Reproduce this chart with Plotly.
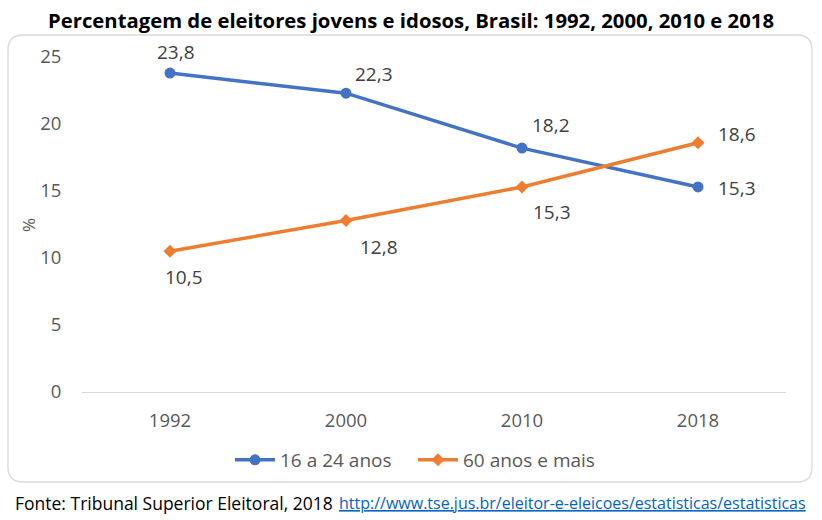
import plotly.graph_objects as go

anos = ["1992", "2000", "2010", "2018"]
jovens = [23.8, 22.3, 18.2, 15.3]
idosos = [10.5, 12.8, 15.3, 18.6]
nome_jovens = "16 a 24 anos"
nome_idosos = "60 anos e mais"
titulo = "Percentagem de eleitores jovens e idosos, Brasil: 1992, 2000, 2010 e 2018"
fonte = "Fonte: Tribunal Superior Eleitoral, 2018"
link = "http://www.tse.jus.br/eleitor-e-eleicoes/estatisticas/estatisticas"

W, H = 822, 520
L, R, T, B = 82, 36, 57, 128
pw, ph = W - L - R, H - T - B

def px(x):
    return (x - L) / pw

def py(y):
    return (H - B - y) / ph

BLUE = "#4472C4"
ORANGE = "#ED7D31"
FONT = "Open Sans"

fig = go.Figure()
fig.add_trace(go.Scatter(x=anos, y=jovens, name=nome_jovens, mode="lines+markers",
                         line=dict(color=BLUE, width=3.5),
                         marker=dict(symbol="circle", size=11, color=BLUE)))
fig.add_trace(go.Scatter(x=anos, y=idosos, name=nome_idosos, mode="lines+markers",
                         line=dict(color=ORANGE, width=3.5),
                         marker=dict(symbol="diamond", size=10, color=ORANGE)))

off_j = [(6, 21), (28, 19), (29, 23), (39, -1)]
off_i = [(14, -26), (33, -27), (30, -25), (39, 9)]
for serie, offs in ((jovens, off_j), (idosos, off_i)):
    for i, (v, (dx, dy)) in enumerate(zip(serie, offs)):
        fig.add_annotation(x=i, y=v, xref="x", yref="y",
                           text=f"{v:.1f}".replace(".", ","), showarrow=False,
                           xshift=dx, yshift=dy, font=dict(family=FONT, size=19, color="#404040"))

# rounded border
x0, x1, y0, y1, r = px(8), px(812), py(482), py(35), 15
rx, ry = r / pw, r / ph
path = (f"M {x0+rx},{y1} L {x1-rx},{y1} Q {x1},{y1} {x1},{y1-ry} "
        f"L {x1},{y0+ry} Q {x1},{y0} {x1-rx},{y0} L {x0+rx},{y0} "
        f"Q {x0},{y0} {x0},{y0+ry} L {x0},{y1-ry} Q {x0},{y1} {x0+rx},{y1} Z")
fig.add_shape(type="path", path=path, xref="paper", yref="paper",
              line=dict(color="#D9D9D9", width=1.3), layer="below")

fig.add_annotation(x=px(411), xref="paper", y=py(20), yref="paper", text=f"<b>{titulo}</b>",
                   showarrow=False, xanchor="center", yanchor="middle",
                   font=dict(family=FONT, size=20.3, color="#000000"))
fig.add_annotation(x=px(28), xref="paper", y=py(225), yref="paper", text="%",
                   showarrow=False, xanchor="center", yanchor="middle", textangle=-90,
                   font=dict(family=FONT, size=17, color="#595959"))
fig.add_annotation(x=px(13), xref="paper", y=py(503), yref="paper", text=fonte,
                   showarrow=False, xanchor="left", yanchor="middle",
                   font=dict(family=FONT, size=17.5, color="#000000"))
fig.add_annotation(x=px(808), xref="paper", y=py(503), yref="paper", text=link,
                   showarrow=False, xanchor="right", yanchor="middle",
                   font=dict(family=FONT, size=16, color="#0563C1", lineposition="under"))

fig.update_layout(
    width=W, height=H, margin=dict(l=L, r=R, t=T, b=B),
    paper_bgcolor="white", plot_bgcolor="white",
    showlegend=True,
    legend=dict(orientation="h", x=px(230), xanchor="left", y=py(460), yanchor="middle",
                font=dict(family=FONT, size=19, color="#595959"), itemwidth=40,
                entrywidth=128, entrywidthmode="pixels", traceorder="normal"),
    xaxis=dict(type="category", range=[-0.5, 3.5], showgrid=False, showline=True,
               linecolor="#D9D9D9", linewidth=1.3, ticks="outside", ticklen=12,
               tickcolor="rgba(0,0,0,0)",
               tickfont=dict(family=FONT, size=18.5, color="#595959"), zeroline=False),
    yaxis=dict(range=[0, 25], dtick=5, showgrid=False, showline=False, zeroline=False,
               ticks="outside", ticklen=16, tickcolor="rgba(0,0,0,0)",
               tickfont=dict(family=FONT, size=18.5, color="#595959")),
)
fig.write_html("out.html")
